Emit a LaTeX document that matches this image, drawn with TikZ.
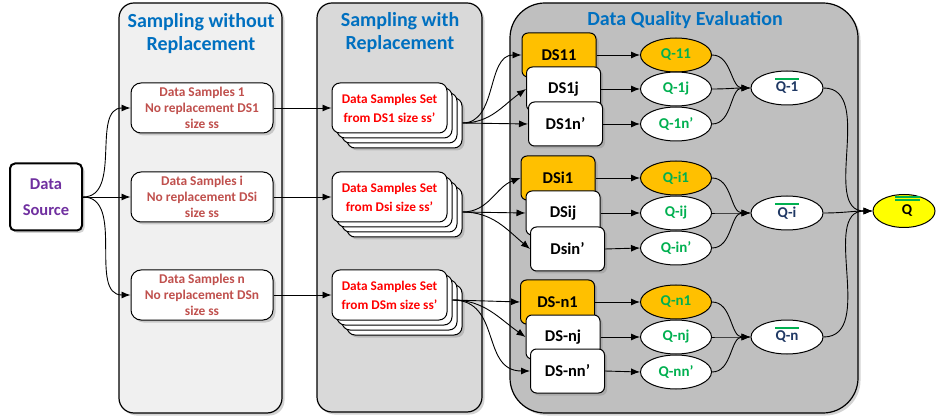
\documentclass[tikz,border=0pt]{standalone}
\usepackage{fontspec}
\setmainfont{Carlito}
\usetikzlibrary{arrows.meta,shapes.geometric,shadows}
\definecolor{pone}{HTML}{F0F0F0}
\definecolor{ptwo}{HTML}{D9D9D9}
\definecolor{pthree}{HTML}{BFBFBF}
\definecolor{tblue}{HTML}{0070C0}
\definecolor{tpurple}{HTML}{7030A0}
\definecolor{tbrick}{HTML}{C0504D}
\definecolor{tred}{HTML}{FF0000}
\definecolor{orng}{HTML}{FFC000}
\definecolor{qgreen}{HTML}{00B050}
\definecolor{qnavy}{HTML}{1F3864}
\definecolor{yell}{HTML}{FFFF00}
\begin{document}
\begin{tikzpicture}[x=1pt,y=-1pt,
  shad/.style={drop shadow={shadow xshift=2.5pt,shadow yshift=-2.5pt,opacity=0.35}},
  panel/.style={draw=black,line width=1.2pt,shad},
  ptitle/.style={text=tblue,font=\bfseries\fontsize{20}{23}\selectfont,align=center},
  srcbox/.style={draw,line width=2pt,rounded corners=5pt,fill=white,shad,minimum width=72pt,minimum height=67pt,align=center,text=tpurple,font=\bfseries\fontsize{16.5}{26}\selectfont},
  sbox/.style={draw,line width=1pt,rounded corners=10pt,fill=white,shad,minimum width=142pt,minimum height=50pt,inner sep=0pt,align=center,text=tbrick,font=\bfseries\fontsize{13.4}{16}\selectfont},
  stk/.style={draw,line width=1pt,rounded corners=8pt,fill=white,minimum width=115pt,minimum height=50pt,inner sep=0pt,align=center,text=tred,font=\bfseries\fontsize{13.3}{19}\selectfont},
  dsbox/.style={draw,line width=1pt,rounded corners=6pt,fill=white,shad,minimum width=74pt,minimum height=44pt,inner sep=0pt,font=\bfseries\fontsize{16.5}{18}\selectfont},
  qell/.style={ellipse,draw,line width=1pt,fill=white,minimum width=71pt,minimum height=34pt,inner sep=0pt,text=qgreen,font=\bfseries\fontsize{15}{16}\selectfont},
  qbar/.style={ellipse,draw,line width=1pt,fill=white,minimum width=72pt,minimum height=34pt,inner sep=0pt,text=qnavy,font=\bfseries\fontsize{15}{16}\selectfont},
  gline/.style={draw=qgreen,line width=1.8pt},
  arr/.style={-{Latex[length=9pt,width=7pt]},line width=0.9pt}]
\useasboundingbox (0,0) rectangle (936,419);
% panels
\node[panel,fill=pone,rounded corners=15pt,minimum width=163pt,minimum height=410pt] (p1) at (200.5,208) {};
\node[panel,fill=ptwo,rounded corners=15pt,minimum width=165pt,minimum height=409pt] (p2) at (399.5,207.5) {};
\node[panel,fill=pthree,rounded corners=35pt,minimum width=348pt,minimum height=410pt] (p3) at (684,208) {};
\node[ptitle] (t1) at (201,34) {Sampling without\\Replacement};
\node[ptitle] (t2) at (400,33) {Sampling with\\Replacement};
\node[ptitle] (t3) at (685,20) {Data Quality Evaluation};
% source
\node[srcbox] (src) at (46,197) {Data\\Source};
% panel 1 boxes
\node[sbox] (a1) at (202,108) {Data Samples 1\\No replacement DS1\\size ss};
\node[sbox] (ai) at (202,197) {Data Samples i\\No replacement DSi\\size ss};
\node[sbox] (an) at (202,295) {Data Samples n\\No replacement DSn\\size ss};
% panel 2 stacks
\node[stk,shad] (b1c) at (404.5,123) {};
\node[stk] (b1b) at (399.5,118) {};
\node[stk] (b1a) at (394.5,113) {};
\node[stk] (b1) at (389.5,108) {Data Samples Set\\from DS1 size ss’};
\node[stk,shad] (bic) at (404.5,212) {};
\node[stk] (bib) at (399.5,207) {};
\node[stk] (bia) at (394.5,202) {};
\node[stk] (bi) at (389.5,197) {Data Samples Set\\from Dsi size ss’};
\node[stk,shad] (bnc) at (404.5,310) {};
\node[stk] (bnb) at (399.5,305) {};
\node[stk] (bna) at (394.5,300) {};
\node[stk] (bn) at (389.5,295) {Data Samples Set\\from DSm size ss’};
% DS boxes
\node[dsbox,fill=orng] (d11) at (559,55) {DS11};
\node[dsbox] (d1j) at (563.5,89) {DS1j};
\node[dsbox] (d1n) at (565.5,124) {DS1n’};
\node[dsbox,fill=orng] (di1) at (558,178) {DSi1};
\node[dsbox] (dij) at (563,213) {DSij};
\node[dsbox] (din) at (567.5,249) {Dsin’};
\node[dsbox,fill=orng] (dn1) at (557.5,302) {DS-n1};
\node[dsbox] (dnj) at (563,337) {DS-nj};
\node[dsbox] (dnn) at (567.5,371) {DS-nn’};
% Q ellipses
\node[qell,fill=orng] (q11) at (676,55) {Q-11};
\node[qell] (q1j) at (676,89) {Q-1j};
\node[qell] (q1n) at (676,124) {Q-1n’};
\node[qell,fill=orng] (qi1) at (676,178) {Q-i1};
\node[qell] (qij) at (676,213) {Q-ij};
\node[qell] (qin) at (676,248) {Q-in’};
\node[qell,fill=orng] (qn1) at (676,302) {Q-n1};
\node[qell] (qnj) at (676,337) {Q-nj};
\node[qell] (qnn) at (676,372) {Q-nn’};
% Q bars
\node[qbar] (qb1) at (787,88) {Q-1};
\node[qbar] (qbi) at (787,213) {Q-i};
\node[qbar] (qbn) at (787,337) {Q-n};
\node[qbar,fill=yell,minimum width=62pt,minimum height=33pt,text=black] (qf) at (904,211) {\hspace*{6pt}Q};
\foreach \n in {qb1,qbi,qbn}
  \draw[gline] ([xshift=-12pt,yshift=9pt]\n.center) -- ([xshift=12pt,yshift=9pt]\n.center);
\draw[gline,line width=1.4pt] ([xshift=-9pt,yshift=14pt]qf.center) -- ([xshift=16pt,yshift=14pt]qf.center);
\draw[gline,line width=1.4pt] ([xshift=-9pt,yshift=11pt]qf.center) -- ([xshift=16pt,yshift=11pt]qf.center);
% connectors
\draw[arr] (src.east) to[out=0,in=180] (a1.west);
\draw[arr] (src.east) -- (ai.west);
\draw[arr] (src.east) to[out=0,in=180] (an.west);
\draw[arr] (a1.east) -- (b1.west);
\draw[arr] (ai.east) -- (bi.west);
\draw[arr] (an.east) -- (bn.west);
\draw[arr] (b1c.east) to[out=0,in=180] (d11.west);
\draw[arr] (b1c.east) to[out=0,in=215] (d1j.west);
\draw[arr] (b1c.east) -- (d1n.west);
\draw[arr] (bic.east) to[out=0,in=200] (di1.west);
\draw[arr] (bic.east) -- (dij.west);
\draw[arr] (bic.east) to[out=0,in=140] (din.west);
\draw[arr] (bna.east) -- (dn1.west);
\draw[arr] (bna.east) to[out=0,in=145] (dnj.west);
\draw[arr] (bna.east) to[out=0,in=180,looseness=1.2] (dnn.west);
\foreach \a/\b in {d11/q11,d1j/q1j,d1n/q1n,di1/qi1,dij/qij,din/qin,dn1/qn1,dnj/qnj,dnn/qnn}
  \draw[arr] (\a.east) -- (\b.west);
\foreach \a/\b in {q11/qb1,q1j/qb1,q1n/qb1,qi1/qbi,qij/qbi,qin/qbi,qn1/qbn,qnj/qbn,qnn/qbn}
  \draw[arr] (\a.east) to[out=0,in=180] (\b.west);
\foreach \a in {qb1,qbi,qbn}
  \draw[arr] (\a.east) to[out=0,in=180] (qf.west);
\end{tikzpicture}
\end{document}
